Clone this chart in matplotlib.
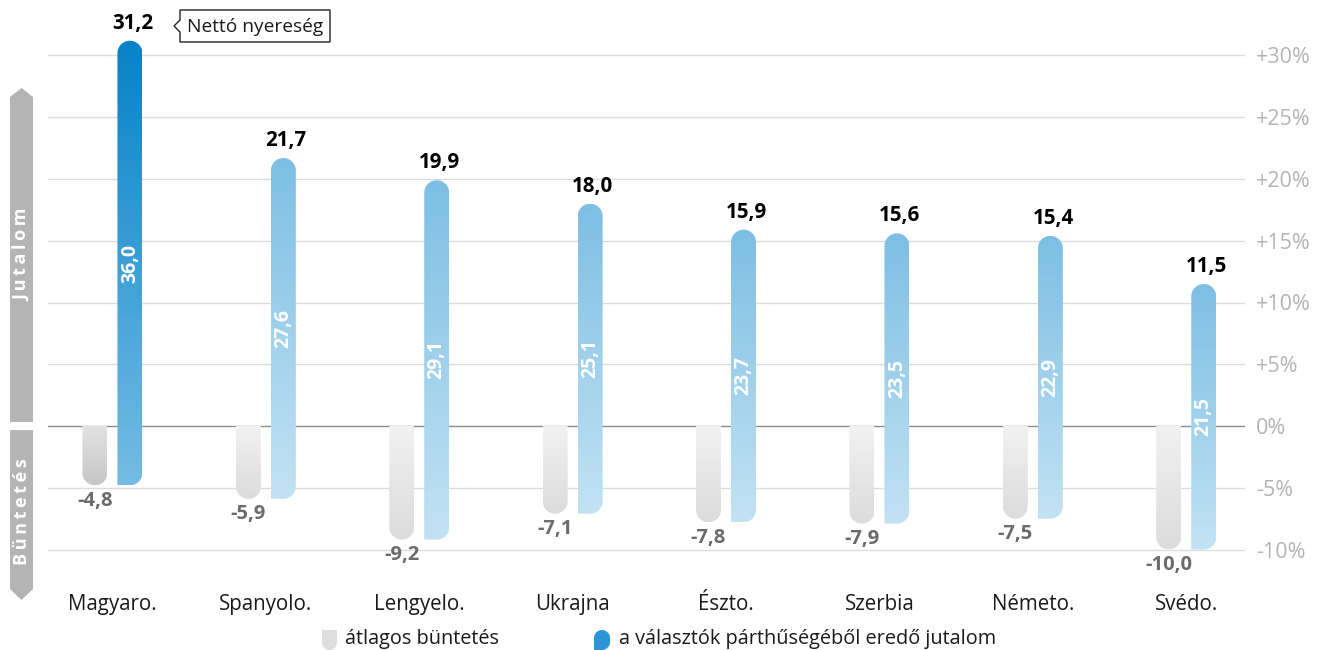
import numpy as np
import matplotlib
matplotlib.use('Agg')
import matplotlib.pyplot as plt
from matplotlib.path import Path
from matplotlib.patches import PathPatch, Polygon
from matplotlib.colors import LinearSegmentedColormap

plt.rcParams['font.family'] = ['Open Sans', 'DejaVu Sans']

countries = ['Magyaro.', 'Spanyolo.', 'Lengyelo.', 'Ukrajna', 'Észto.', 'Szerbia', 'Németo.', 'Svédo.']
penalty = [4.8, 5.9, 9.2, 7.1, 7.8, 7.9, 7.5, 10.0]
reward = [36.0, 27.6, 29.1, 25.1, 23.7, 23.5, 22.9, 21.5]
net = [31.2, 21.7, 19.9, 18.0, 15.9, 15.6, 15.4, 11.5]
yticks = [-10, -5, 0, 5, 10, 15, 20, 25, 30]

W, H = 1325, 650
fig = plt.figure(figsize=(W / 100, H / 100), dpi=100)

# axes placed in pixel terms: 0% at y=426, 12.35 px per percent
ylo, yhi = -11, 33
y_px = lambda v: 426 - v * 12.35
ax = fig.add_axes([48 / W, 1 - y_px(ylo) / H, (1245 - 48) / W, (y_px(ylo) - y_px(yhi)) / H])
ax.set_xlim(-0.42, 7.383)
ax.set_ylim(ylo, yhi)
for s in ax.spines.values():
    s.set_visible(False)

for t in yticks:
    ax.axhline(t, color='#8c8c8c' if t == 0 else '#dcdcdc', lw=1, zorder=1)
ax.yaxis.tick_right()
ax.set_yticks(yticks)
ax.set_yticklabels([('+%d%%' % t) if t > 0 else '%d%%' % t for t in yticks])
ax.tick_params(axis='y', length=0, pad=8, labelsize=15.5, labelcolor='#b4b4b4')
ax.set_xticks(range(len(countries)))
ax.set_xticklabels(countries)
ax.tick_params(axis='x', length=0, pad=23, labelsize=14.8, labelcolor='#1a1a1a')

# data units per pixel
p0, p1 = ax.transData.transform([(0, 0), (1, 1)])
ux = 1 / (p1[0] - p0[0])
uy = 1 / (p1[1] - p0[1])
bw = 25 * ux
off = 17.5 * ux
rx, ry = bw / 2, 12.5 * uy


def arc(cx, cy, a0, a1, n=24):
    a = np.radians(np.linspace(a0, a1, n))
    return list(zip(cx + rx * np.cos(a), cy + ry * np.sin(a)))


def blue_shape(xc, yb, yt):
    x0, x1 = xc - bw / 2, xc + bw / 2
    pts = [(x0, yb)]
    pts += arc(x1 - rx, yb + ry, -90, 0)
    pts += arc(xc, yt - ry, 0, 180)
    pts += [(x0, yb)]
    return pts


def gray_shape(xc, yb):
    x0, x1 = xc - bw / 2, xc + bw / 2
    pts = [(x0, 0), (x1, 0)]
    pts += arc(xc, yb + ry, 0, -180)
    pts += [(x0, 0)]
    return pts


def grad_fill(pts, c_top, c_bot):
    pts = np.array(pts)
    patch = PathPatch(Path(pts), facecolor='none', edgecolor='none')
    ax.add_patch(patch)
    cmap = LinearSegmentedColormap.from_list('g', [c_bot, c_top])
    g = np.linspace(0, 1, 128).reshape(-1, 1)
    im = ax.imshow(g, extent=[pts[:, 0].min(), pts[:, 0].max(), pts[:, 1].min(), pts[:, 1].max()],
                   origin='lower', aspect='auto', cmap=cmap, zorder=2, interpolation='bilinear')
    im.set_clip_path(patch)


fmt = lambda v: ('%.1f' % v).replace('.', ',')
for i, c in enumerate(countries):
    xg, xb = i - off, i + off
    if i == 0:
        grad_fill(gray_shape(xg, -penalty[i]), '#e3e3e3', '#c6c6c6')
        grad_fill(blue_shape(xb, -penalty[i], net[i]), '#0682c8', '#74bce4')
    else:
        grad_fill(gray_shape(xg, -penalty[i]), '#f1f1f1', '#dcdcdc')
        grad_fill(blue_shape(xb, -penalty[i], net[i]), '#7dbfe4', '#c2e2f3')
    ax.annotate(fmt(net[i]), (xb, net[i]), xytext=(2, 5), textcoords='offset points',
                ha='center', va='bottom', fontsize=14.8, fontweight='bold', color='#000000')
    ax.annotate('-' + fmt(penalty[i]), (xg, -penalty[i]), xytext=(0, -4), textcoords='offset points',
                ha='center', va='top', fontsize=14.5, fontweight='bold', color='#6b6b6b')
    ax.text(xb, (net[i] - penalty[i]) / 2, fmt(reward[i]), rotation=90, ha='center', va='center',
            fontsize=14, fontweight='bold', color='white', zorder=3)

ax.set_xlim(-0.42, 7.383)
ax.set_ylim(ylo, yhi)


def fp(x, y):
    return (x / W, 1 - y / H)


# side banners
ban = '#b4b4b4'
fig.patches.append(Polygon([fp(10, 422), fp(33, 422), fp(33, 97), fp(21.5, 88), fp(10, 97)],
                           closed=True, transform=fig.transFigure, facecolor=ban, edgecolor='none'))
fig.patches.append(Polygon([fp(10, 430), fp(33, 430), fp(33, 589), fp(21.5, 600), fp(10, 589)],
                           closed=True, transform=fig.transFigure, facecolor=ban, edgecolor='none'))
sp = '\u2009'
fig.text(*fp(22, 255), sp.join('Jutalom'), rotation=90, ha='center', va='center',
         color='white', fontsize=13, fontweight='bold')
fig.text(*fp(22, 512), sp.join('Büntetés'), rotation=90, ha='center', va='center',
         color='white', fontsize=13, fontweight='bold')

# callout
fig.patches.append(Polygon([fp(180, 10), fp(330, 10), fp(330, 42), fp(180, 42), fp(180, 32),
                            fp(174, 26), fp(180, 20)], closed=True, transform=fig.transFigure,
                           facecolor='white', edgecolor='#222222', lw=1))
fig.text(*fp(255, 27), 'Nettó nyereség', ha='center', va='center', fontsize=13.8, color='#1a1a1a')


# legend icons
def icon(x0, y0, w, h, top_round, color):
    r = w / 2
    if top_round:
        pts = [fp(x0, y0 + h)]
        for t in np.linspace(-90, 0, 12):
            tr = np.radians(t)
            pts.append(fp(x0 + w - r + r * np.cos(tr), y0 + h - r - r * np.sin(tr)))
        for t in np.linspace(0, 180, 20):
            tr = np.radians(t)
            pts.append(fp(x0 + r + r * np.cos(tr), y0 + r - r * np.sin(tr)))
    else:
        pts = [fp(x0, y0), fp(x0 + w, y0)]
        for t in np.linspace(0, -180, 20):
            tr = np.radians(t)
            pts.append(fp(x0 + r + r * np.cos(tr), y0 + h - r - r * np.sin(tr)))
    fig.patches.append(Polygon(pts, closed=True, transform=fig.transFigure,
                               facecolor=color, edgecolor='none'))


icon(322, 630, 15, 20, False, '#dedede')
fig.text(*fp(345, 639), 'átlagos büntetés', ha='left', va='center', fontsize=14.3, color='#1a1a1a')
icon(594, 630, 16, 20, True, '#2a95d6')
fig.text(*fp(619, 639), 'a választók párthűségéből eredő jutalom', ha='left', va='center',
         fontsize=14.3, color='#1a1a1a')

fig.savefig('out.png', dpi=100)
